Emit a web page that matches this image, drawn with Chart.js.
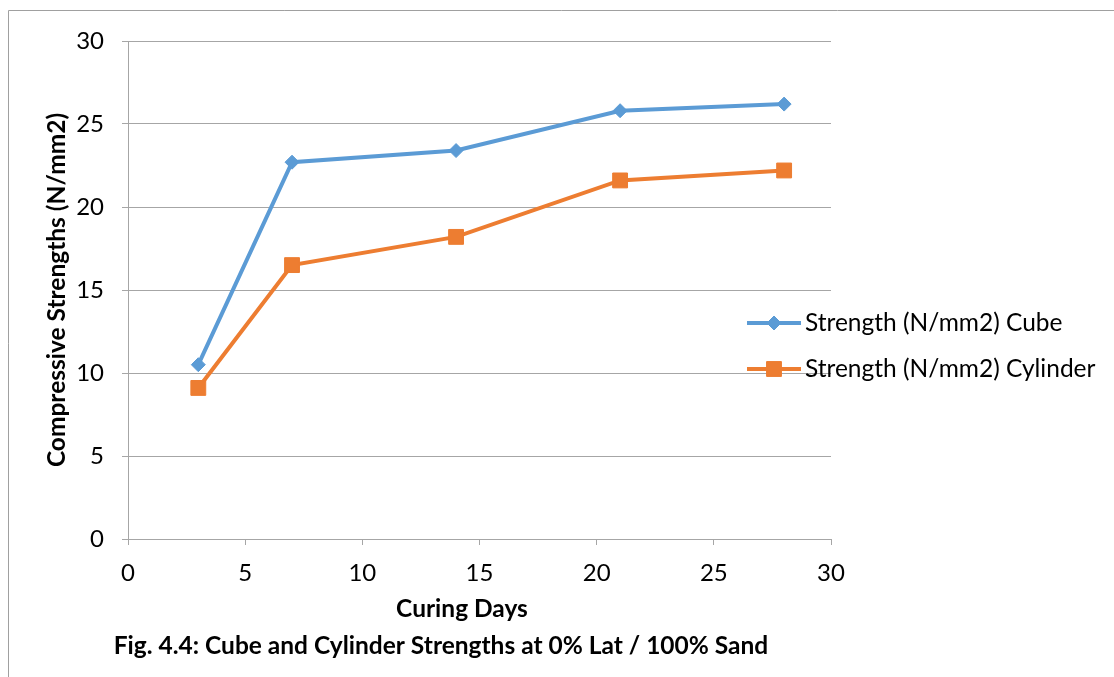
<!DOCTYPE html>
<html><head><meta charset="utf-8">
<script src="https://cdn.jsdelivr.net/npm/chart.js@4.4.0/dist/chart.umd.min.js"></script>
<style>html,body{margin:0;padding:0;background:#fff}#wrap{width:1114px;height:677px;position:relative}</style>
</head><body><div id="wrap"><canvas id="c" width="1114" height="677"></canvas></div>
<script>
const curingDays = [3, 7, 14, 21, 28];
const cubeStrength = [10.5, 22.7, 23.4, 25.8, 26.2];
const cylinderStrength = [9.1, 16.5, 18.2, 21.6, 22.2];
const seriesNames = ['Strength (N/mm2) Cube', 'Strength (N/mm2) Cylinder'];
const xTitle = 'Curing Days';
const yTitle = 'Compressive Strengths (N/mm2)';
const caption = 'Fig. 4.4: Cube and Cylinder Strengths at 0% Lat / 100% Sand';

const FONT = 'Lato, "Open Sans", sans-serif';
const BLUE = '#5B9BD5', ORANGE = '#ED7D31', GRID = '#A6A6A6';

const frame = {
  id: 'frame',
  beforeDraw(chart) {
    const ctx = chart.ctx;
    ctx.save();
    ctx.strokeStyle = '#A0A0A0'; ctx.lineWidth = 1;
    ctx.beginPath(); ctx.moveTo(8.5, 677); ctx.lineTo(8.5, 10.5); ctx.lineTo(1114, 10.5); ctx.stroke();
    ctx.restore();
  },
  afterDraw(chart) {
    const ctx = chart.ctx;
    ctx.save();
    const items = [[BLUE, 'rectRot', 7, 323], [ORANGE, 'rect', 10.5, 369]];
    items.forEach((it, i) => {
      const [col, style, r, y] = it;
      ctx.strokeStyle = col; ctx.lineWidth = 4;
      ctx.beginPath(); ctx.moveTo(747, y); ctx.lineTo(801, y); ctx.stroke();
      ctx.fillStyle = col; ctx.strokeStyle = col; ctx.lineWidth = 1;
      Chart.helpers.drawPoint(ctx, {pointStyle: style, radius: r, rotation: 0, borderWidth: 1}, 774, y);
      ctx.fillStyle = '#000'; ctx.font = '24.5px ' + FONT; ctx.textBaseline = 'middle'; ctx.textAlign = 'left';
      ctx.fillText(seriesNames[i], 805, y);
    });
    ctx.font = 'bold 24.5px ' + FONT; ctx.textAlign = 'center'; ctx.textBaseline = 'middle';
    ctx.fillText(xTitle, 462, 609);
    ctx.fillText(caption, 441, 646);
    ctx.restore();
  }
};

new Chart(document.getElementById('c'), {
  type: 'line',
  data: {
    datasets: [
      { label: seriesNames[0], data: curingDays.map((d, i) => ({x: d, y: cubeStrength[i]})),
        borderColor: BLUE, backgroundColor: BLUE, borderWidth: 4, pointStyle: 'rectRot', pointRadius: 7,
        pointBorderWidth: 1, tension: 0 },
      { label: seriesNames[1], data: curingDays.map((d, i) => ({x: d, y: cylinderStrength[i]})),
        borderColor: ORANGE, backgroundColor: ORANGE, borderWidth: 4, pointStyle: 'rect', pointRadius: 10.5,
        pointBorderWidth: 1, tension: 0 }
    ]
  },
  options: {
    responsive: false, animation: false,
    layout: { padding: { left: 0, top: 41, right: 283, bottom: 0 } },
    plugins: { legend: { display: false }, tooltip: { enabled: false }, title: { display: false } },
    scales: {
      x: { type: 'linear', min: 0, max: 30,
        ticks: { stepSize: 5, color: '#000', font: { family: FONT, size: 24 }, padding: 14, maxRotation: 0 },
        grid: { drawOnChartArea: false, tickLength: 6, color: GRID },
        border: { color: GRID },
        afterFit(s) { s.height = 138; } },
      y: { min: 0, max: 30,
        ticks: { stepSize: 5, color: '#000', font: { family: FONT, size: 24 }, padding: 18 },
        grid: { color: GRID, tickLength: 6 },
        border: { color: GRID },
        title: { display: true, text: yTitle, color: '#000', font: { family: FONT, size: 24.5, weight: 'bold' }, lineHeight: 1.2, padding: { top: 42, bottom: 0 } },
        afterFit(s) { s.width = 128; } }
    }
  },
  plugins: [frame]
});
</script></body></html>
